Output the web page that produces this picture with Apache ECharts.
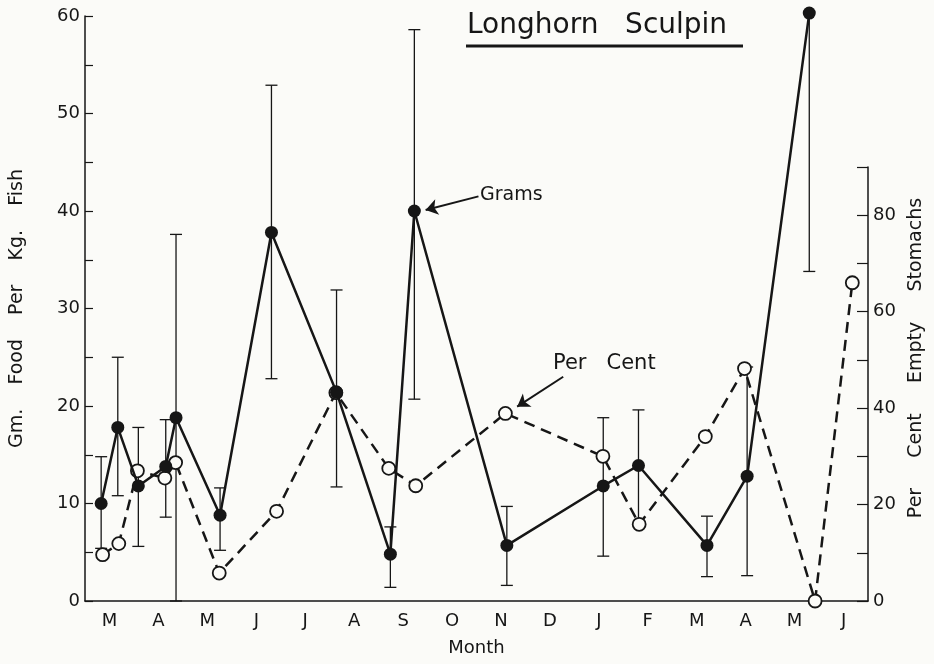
<!DOCTYPE html>
<html>
<head>
<meta charset="utf-8">
<script src="https://cdn.jsdelivr.net/npm/echarts@6/dist/echarts.min.js"></script>
<style>
  html, body { margin: 0; padding: 0; background: #fbfbf8; }
  #main { width: 934px; height: 664px; }
</style>
</head>
<body>
<div id="main"></div>
<script>
// month labels along the bottom (one band per month)
var months = ['M', 'A', 'M', 'J', 'J', 'A', 'S', 'O', 'N', 'D', 'J', 'F', 'M', 'A', 'M', 'J'];

// grams of food per kg fish: month position (0 = start of March), value
var gramsX = [0.33, 0.67, 1.09, 1.65, 1.86, 2.76, 3.81, 5.14, 6.24, 6.73, 8.62, 10.59, 11.31, 12.71, 13.53, 14.80];
var gramsY = [10, 17.8, 11.8, 13.8, 18.8, 8.8, 37.8, 21.4, 4.8, 40.0, 5.7, 11.8, 13.9, 5.7, 12.8, 60.3];
var gramsLow = [5.4, 10.8, 5.6, 8.6, 0, 5.2, 22.8, 11.7, 1.4, 20.7, 1.6, 4.6, 8, 2.5, 2.6, 33.8];
var gramsHigh = [14.8, 25, 17.8, 18.6, 37.6, 11.6, 52.9, 31.9, 7.6, 58.6, 9.7, 18.8, 19.6, 8.7, 24, 60.3];

// per cent empty stomachs
var pctX = [0.38, 0.71, 1.09, 1.65, 1.87, 2.76, 3.93, 5.14, 6.22, 6.77, 8.60, 10.59, 11.33, 12.68, 13.48, 14.92, 15.68];
var pctY = [9.6, 11.9, 27, 25.5, 28.7, 5.8, 18.6, 43.2, 27.5, 23.9, 38.9, 30, 15.9, 34.1, 48.2, 0, 66];

var ink = '#161616';
var font = 'DejaVu Sans';

var gramsData = gramsX.map(function (x, i) { return [x, gramsY[i]]; });
var pctData = pctX.map(function (x, i) { return [x, pctY[i]]; });
var errData = gramsX.map(function (x, i) { return [x, gramsLow[i], gramsHigh[i], gramsHigh[i] > gramsY[i] ? 1 : 0]; });

var chart = echarts.init(document.getElementById('main'));

chart.setOption({
  animation: false,
  backgroundColor: '#fbfbf8',
  textStyle: { fontFamily: font, color: ink },
  grid: [
    { left: 84, right: 66, top: 16, bottom: 63 },
    { left: 84, right: 66, top: 167, bottom: 63 }
  ],
  xAxis: [
    {
      gridIndex: 0, type: 'category', data: months, boundaryGap: true,
      axisLine: { onZero: false, lineStyle: { color: ink, width: 1.5 } },
      axisTick: { inside: true, length: 8, interval: 0, lineStyle: { color: ink, width: 1.2 } },
      axisLabel: { interval: 0, margin: 11, fontSize: 18, color: ink, fontFamily: font },
      name: 'Month', nameLocation: 'middle', nameGap: 38,
      nameTextStyle: { fontSize: 18, color: ink, fontFamily: font }
    },
    { gridIndex: 0, type: 'value', min: 0, max: 16, show: false },
    { gridIndex: 1, type: 'value', min: 0, max: 16, show: false }
  ],
  yAxis: [
    {
      gridIndex: 0, type: 'value', min: 0, max: 60, interval: 5,
      axisLine: { show: true, onZero: false, lineStyle: { color: ink, width: 1.5 } },
      axisTick: { show: true, inside: true, length: 8, lineStyle: { color: ink, width: 1.2 } },
      splitLine: { show: false },
      axisLabel: {
        margin: 5, fontSize: 18, color: ink, fontFamily: font,
        formatter: function (v) { return v % 10 === 0 ? String(v) : ''; }
      },
      name: 'Gm.    Food    Per    Kg.    Fish', nameLocation: 'middle', nameGap: 58,
      nameTextStyle: { fontSize: 19, color: ink, fontFamily: font }
    },
    {
      gridIndex: 1, type: 'value', position: 'right', min: 0, max: 90, interval: 10,
      axisLine: { show: true, onZero: false, lineStyle: { color: ink, width: 1.5 } },
      axisTick: { show: true, inside: true, length: 11, lineStyle: { color: ink, width: 1.2 } },
      splitLine: { show: false },
      axisLabel: {
        margin: 5, fontSize: 18, color: ink, fontFamily: font,
        formatter: function (v) { return v % 20 === 0 ? String(v) : ''; }
      }
    }
  ],
  graphic: [
    {
      type: 'text', left: 467, top: 12,
      style: { text: 'Longhorn   Sculpin', font: '28px "DejaVu Sans"', fill: ink }
    },
    {
      type: 'line', shape: { x1: 466, y1: 46, x2: 743, y2: 46 },
      style: { stroke: ink, lineWidth: 3 }
    },
    {
      type: 'text', left: 480, top: 186,
      style: { text: 'Grams', font: '19px "DejaVu Sans"', fill: ink }
    },
    {
      type: 'text', left: 553, top: 353,
      style: { text: 'Per   Cent', font: '21px "DejaVu Sans"', fill: ink }
    },
    {
      type: 'text', x: 916, y: 358, rotation: Math.PI / 2,
      style: {
        text: 'Per     Cent     Empty     Stomachs', font: '19px "DejaVu Sans"', fill: ink,
        align: 'center', verticalAlign: 'middle'
      }
    }
  ],
  series: [
    {
      name: 'errors', type: 'custom', xAxisIndex: 1, yAxisIndex: 0, z: 1,
      data: errData,
      renderItem: function (params, api) {
        var x = api.value(0);
        var lo = api.coord([x, api.value(1)]);
        var hi = api.coord([x, api.value(2)]);
        var w = 6;
        var style = { stroke: ink, lineWidth: 1.3 };
        var kids = [
          { type: 'line', shape: { x1: lo[0], y1: lo[1], x2: hi[0], y2: hi[1] }, style: style },
          { type: 'line', shape: { x1: lo[0] - w, y1: lo[1], x2: lo[0] + w, y2: lo[1] }, style: style }
        ];
        if (api.value(3)) {
          kids.push({ type: 'line', shape: { x1: hi[0] - w, y1: hi[1], x2: hi[0] + w, y2: hi[1] }, style: style });
        }
        return { type: 'group', children: kids };
      }
    },
    {
      name: 'Per Cent', type: 'line', xAxisIndex: 2, yAxisIndex: 1, z: 3,
      data: pctData, clip: false,
      symbol: 'circle', symbolSize: 13,
      itemStyle: { color: '#fbfbf8', borderColor: ink, borderWidth: 1.8 },
      lineStyle: { color: ink, width: 2.5, type: [11, 7] },
      markLine: {
        silent: true, animation: false, symbol: ['none', 'arrow'], symbolSize: 12,
        label: { show: false }, z: 6,
        lineStyle: { color: ink, width: 2, type: 'solid' },
        data: [[{ coord: [9.78, 46.5] }, { coord: [8.84, 40.3] }]]
      }
    },
    {
      name: 'Grams', type: 'line', xAxisIndex: 1, yAxisIndex: 0, z: 4,
      data: gramsData, clip: false,
      symbol: 'circle', symbolSize: 13,
      itemStyle: { color: ink },
      lineStyle: { color: ink, width: 2.5 },
      markLine: {
        silent: true, animation: false, symbol: ['none', 'arrow'], symbolSize: 12,
        label: { show: false }, z: 6,
        lineStyle: { color: ink, width: 2, type: 'solid' },
        data: [[{ coord: [8.04, 41.5] }, { coord: [6.96, 40.1] }]]
      }
    }
  ]
});
</script>
</body>
</html>
